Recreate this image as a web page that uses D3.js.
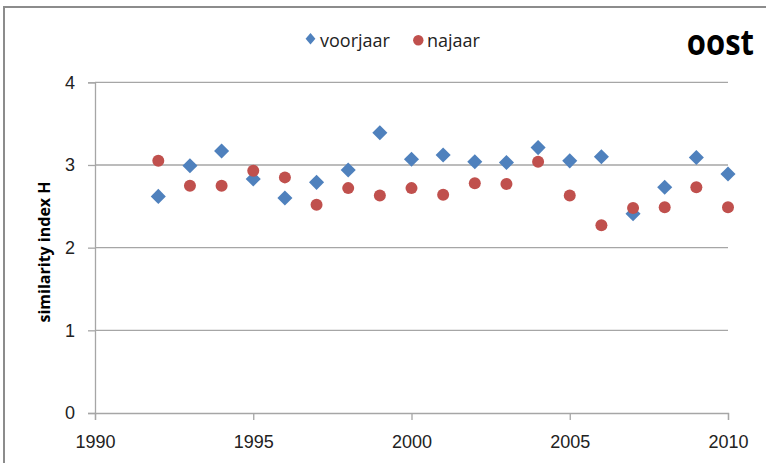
<!DOCTYPE html>
<html><head><meta charset="utf-8">
<script src="https://cdn.jsdelivr.net/npm/d3@7"></script>
<style>
html,body{margin:0;padding:0;background:#fff;}
svg{display:block;font-family:"Open Sans","Liberation Sans",sans-serif;}
</style></head>
<body>
<svg id="chart" width="766" height="463"></svg>
<script>
const years = [1992,1993,1994,1995,1996,1997,1998,1999,2000,2001,2002,2003,2004,2005,2006,2007,2008,2009,2010];
const voorjaar = [2.62,2.99,3.17,2.83,2.60,2.79,2.94,3.39,3.07,3.12,3.04,3.03,3.21,3.05,3.10,2.41,2.73,3.09,2.89];
const najaar = [3.05,2.75,2.75,2.93,2.85,2.52,2.72,2.63,2.72,2.64,2.78,2.77,3.04,2.63,2.27,2.48,2.49,2.73,2.49];
const xTicks = [1990,1995,2000,2005,2010];
const yTicks = [0,1,2,3,4];

const svg = d3.select("#chart");
const x = d3.scaleLinear().domain([1990,2010]).range([95,728]);
const y = d3.scaleLinear().domain([0,4]).range([413,82.3]);

// outer border
svg.append("rect").attr("x",4).attr("y",7).attr("width",800).attr("height",500)
  .attr("fill","none").attr("stroke","#8c8c8c").attr("stroke-width",2);

// gridlines
svg.append("g").selectAll("line").data(yTicks.filter(d=>d>0)).join("line")
  .attr("x1",x(1990)).attr("x2",x(2010)).attr("y1",d=>y(d)).attr("y2",d=>y(d))
  .attr("stroke","#a6a6a6").attr("stroke-width",1.3);

// y axis
const yAxis = svg.append("g").attr("transform",`translate(${x(1990)},0)`)
  .call(d3.axisLeft(y).tickValues(yTicks).tickSize(7).tickPadding(13).tickFormat(d3.format("d")));
yAxis.select(".domain").attr("stroke","#a6a6a6").attr("stroke-width",1.3);
yAxis.selectAll(".tick line").attr("stroke","#a6a6a6").attr("stroke-width",1.3);
yAxis.selectAll("text").attr("font-size",18).attr("fill","#222");

// x axis
const xAxis = svg.append("g").attr("transform",`translate(0,${y(0)})`)
  .call(d3.axisBottom(x).tickValues(xTicks).tickSize(7).tickPadding(15).tickFormat(d3.format("d")));
xAxis.select(".domain").attr("stroke","#a6a6a6").attr("stroke-width",1.3);
xAxis.selectAll(".tick line").attr("stroke","#a6a6a6").attr("stroke-width",1.3);
xAxis.selectAll("text").attr("font-size",18).attr("fill","#222");

// axis title
svg.append("text").attr("transform","translate(50,252) rotate(-90)")
  .attr("text-anchor","middle").attr("font-size",16).attr("font-weight","bold").attr("fill","#000")
  .text("similarity index H");

// series
const diamond = d3.symbol().type(d3.symbolDiamond2).size(145);
svg.append("g").selectAll("path").data(years.map((yr,i)=>[yr,voorjaar[i]])).join("path")
  .attr("d",diamond).attr("transform",d=>`translate(${x(d[0])},${y(d[1])})`)
  .attr("fill","#4f81bd");
svg.append("g").selectAll("circle").data(years.map((yr,i)=>[yr,najaar[i]])).join("circle")
  .attr("cx",d=>x(d[0])).attr("cy",d=>y(d[1])).attr("r",6).attr("fill","#c0504d");

// legend
const lg = svg.append("g");
lg.append("path").attr("d",d3.symbol().type(d3.symbolDiamond2).size(85)())
  .attr("transform","translate(310.5,38.7) scale(0.85,1)").attr("fill","#4f81bd");
lg.append("text").attr("x",320).attr("y",46.5).attr("font-size",18).attr("fill","#222").text("voorjaar");
lg.append("circle").attr("cx",418.3).attr("cy",40.3).attr("r",5.2).attr("fill","#c0504d");
lg.append("text").attr("x",427).attr("y",46.5).attr("font-size",18).attr("fill","#222").text("najaar");

// title
svg.append("text").attr("transform","translate(754,55) scale(1,1.15)").attr("text-anchor","end")
  .attr("font-size",31).attr("font-weight","bold").attr("fill","#000").text("oost");
</script>
</body></html>
